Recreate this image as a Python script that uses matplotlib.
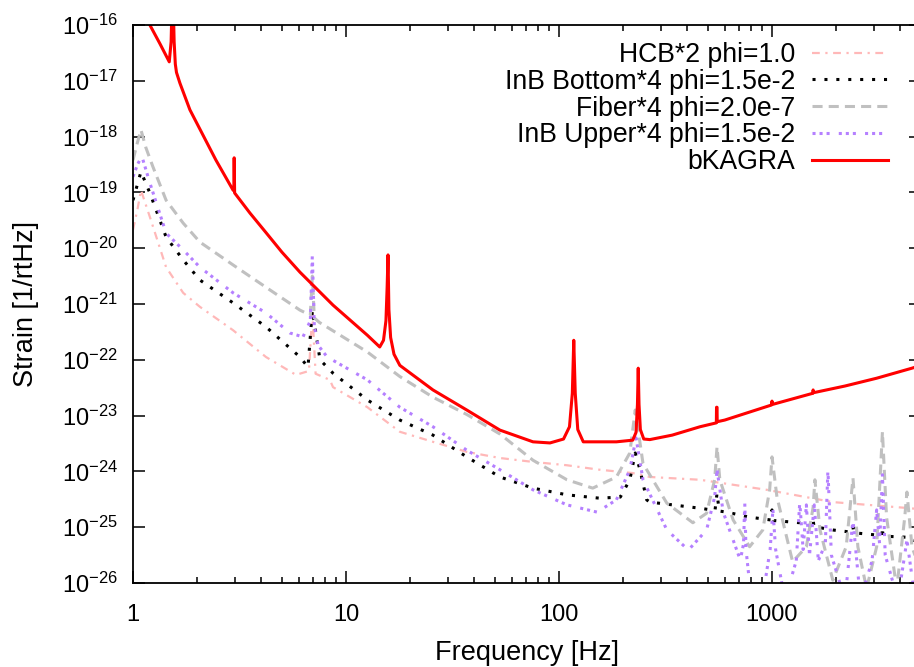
import numpy as np
import matplotlib
matplotlib.use("Agg")
import matplotlib.pyplot as plt

plt.rcParams['font.family'] = ['Liberation Sans', 'DejaVu Sans']
plt.rcParams['mathtext.fontset'] = 'custom'
plt.rcParams['mathtext.rm'] = 'Liberation Sans'
plt.rcParams['mathtext.it'] = 'Liberation Sans'
plt.rcParams['mathtext.bf'] = 'Liberation Sans'

# ---- data (frequency in Hz, log10 of strain in 1/rtHz) ----
kagra_f = [1.15, 1.20, 1.34, 1.48, 1.51, 1.525, 1.535, 1.545, 1.56, 1.58, 1.60, 1.66, 1.85, 2.45, 2.95,
           2.975, 2.985, 3.00, 3.54, 4.21, 5.0, 6.08, 8.69, 12.6, 14.4, 15.0, 15.4, 15.6, 15.75, 15.9, 16.2,
           16.8, 17.9, 25.6, 36.9, 52.8, 75.5, 90.7, 105, 112, 115.5, 117.3, 119.2, 122.5, 130, 186,
           222, 230, 233.5, 235.5, 237.5, 241, 250, 267, 340, 459, 548, 549, 552, 553, 600, 995, 1000,
           1005, 1555, 1560, 1565, 2200, 3100, 4540, 5000]
kagra_log = [-15.85, -16.0, -16.34, -16.66, -16.3, -15.6, -15.3, -15.6, -16.3, -16.7, -16.85, -17.04, -17.52, -18.42, -18.96,
             -18.97, -18.38, -19.01, -19.37, -19.72, -20.07, -20.43, -21.02, -21.56, -21.77, -21.65, -21.3, -20.7, -20.12, -21.1, -21.6,
             -21.9, -22.1, -22.54, -22.90, -23.26, -23.47, -23.49, -23.42, -23.2, -22.6, -21.65, -22.6, -23.25, -23.47, -23.47,
             -23.44, -23.3, -22.8, -22.15, -22.8, -23.25, -23.42, -23.43, -23.35, -23.20, -23.13, -22.85, -22.85, -23.11, -23.08, -22.81, -22.74,
             -22.80, -22.60, -22.54, -22.59, -22.47, -22.33, -22.15, -22.10]

fiber_f = [1.0, 1.05, 1.09, 1.15, 1.24, 1.43, 1.72, 2.06, 2.95, 4.21, 6.08, 6.8, 6.95, 7.1, 7.5, 8.69, 12.6,
           17.9, 25.6, 36.9, 52.8, 75.5, 109, 144, 186, 215, 228, 248, 321, 425, 493, 538, 552, 569,
           657, 785, 905, 975, 1000, 1055, 1250, 1450, 1560, 1590, 1680, 1930, 2230, 2400, 2530, 2780,
           3100, 3300, 3450, 3850, 4200, 4300, 4540, 5000]
fiber_log = [-18.42, -18.1, -17.88, -18.2, -18.54, -19.14, -19.55, -19.89, -20.30, -20.70, -21.11, -21.2, -20.5, -21.25, -21.33, -21.48, -21.86,
             -22.30, -22.67, -22.98, -23.33, -23.80, -24.15, -24.30, -24.10, -23.67, -22.90, -23.86, -24.57, -24.92, -24.75, -24.15, -23.56, -24.15,
             -24.87, -25.35, -25.05, -24.33, -23.74, -24.46, -25.62, -25.35, -24.64, -24.15, -25.05, -25.95, -25.35, -24.12, -25.35, -26.1,
             -25.35, -23.29, -24.82, -26.1, -24.82, -24.37, -25.35, -25.8]

upper_f = [1.0, 1.05, 1.1, 1.2, 1.43, 1.72, 2.06, 2.95, 4.21, 5.46, 6.28, 6.8, 6.95, 7.1, 7.4, 8.16, 12.6,
           17.9, 25.6, 36.9, 52.8, 75.5, 109, 151, 186, 215, 230, 248, 321, 405, 493, 538, 552, 590,
           710, 735, 745, 755, 800, 900, 980, 1010, 1040, 1150, 1300, 1350, 1400, 1450, 1500, 1580,
           1650, 1780, 1830, 1900, 2200, 2400, 2600, 2950, 3100, 3200, 3300, 3400, 3900, 4300, 4700, 5000]
upper_log = [-18.72, -18.5, -18.35, -18.83, -19.73, -20.03, -20.34, -20.80, -21.16, -21.52, -21.59, -21.3, -20.12, -21.4, -21.74, -21.95, -22.36,
             -22.85, -23.20, -23.62, -23.97, -24.33, -24.60, -24.73, -24.51, -23.97, -23.40, -24.15, -25.05, -25.41, -25.05, -24.46, -23.97, -24.73,
             -25.59, -25.3, -24.57, -25.4, -26.3, -26.3, -25.4, -24.69, -25.4, -26.3, -25.6, -24.55, -25.4, -24.6, -25.5, -24.6,
             -25.6, -25.3, -23.97, -25.5, -26.3, -24.87, -26.3, -25.6, -24.69, -25.3, -24.06, -25.5, -26.3, -25.23, -26.3, -26.3]

bottom_f = [1.0, 1.05, 1.09, 1.2, 1.43, 1.72, 2.06, 2.95, 4.21, 6.08, 6.63, 6.95, 7.55, 8.69, 12.6, 17.9, 25.6,
            36.9, 52.8, 75.5, 109, 155, 194, 215, 228, 240, 258, 267, 459, 540, 552, 565, 613, 785, 985,
            1000, 1015, 1350, 1545, 1560, 1575, 1930, 2380, 2400, 2420, 3100, 3280, 3300, 3320, 4300, 4540, 5000]
bottom_log = [-19.14, -18.85, -18.63, -19.01, -19.80, -20.21, -20.57, -20.98, -21.41, -21.95, -22.13, -21.11, -22.0, -22.24, -22.72, -23.08, -23.35,
              -23.74, -24.10, -24.30, -24.42, -24.48, -24.46, -24.15, -23.67, -23.97, -24.51, -24.55, -24.66, -24.70, -24.39, -24.71, -24.73, -24.82, -24.87,
              -24.69, -24.88, -24.92, -24.98, -24.87, -24.99, -25.05, -25.09, -25.00, -25.10, -25.14, -25.15, -25.00, -25.16, -25.18, -25.23, -25.26]

hcb_f = [1.0, 1.05, 1.09, 1.2, 1.43, 1.72, 2.06, 2.95, 4.21, 5.82, 6.7, 6.95, 7.2, 8.4, 8.69, 12.6, 17.9, 25.6,
         36.9, 52.8, 75.5, 109, 155, 222, 267, 459, 945, 1930, 4460, 5000]
hcb_log = [-19.67, -19.3, -18.96, -19.44, -20.34, -20.80, -21.05, -21.47, -21.95, -22.27, -22.2, -21.16, -22.25, -22.36, -22.49, -22.85, -23.29, -23.47,
           -23.65, -23.76, -23.83, -23.89, -23.97, -24.03, -24.10, -24.15, -24.33, -24.55, -24.66, -24.68]

labels = ["HCB*2 phi=1.0", "InB Bottom*4 phi=1.5e-2", "Fiber*4 phi=2.0e-7",
          "InB Upper*4 phi=1.5e-2", "bKAGRA"]

W, H = 914, 667
fig = plt.figure(figsize=(W / 100, H / 100), dpi=100)
left, top, bottom = 133, 25, 583
width_px = 213 * np.log10(5000)
ax = fig.add_axes([left / W, (H - bottom) / H, width_px / W, (bottom - top) / H])

ax.plot(hcb_f, 10.0 ** np.array(hcb_log), color='#ffb8b8', lw=1.6, dashes=(3.5, 2.5, 1, 2.5), label=labels[0])
ax.plot(bottom_f, 10.0 ** np.array(bottom_log), color='black', lw=2.2, dashes=(1, 2.9), label=labels[1])
ax.plot(fiber_f, 10.0 ** np.array(fiber_log), color='#c0c0c0', lw=2.2, dashes=(3.3, 2), label=labels[2])
ax.plot(upper_f, 10.0 ** np.array(upper_log), color='#b580ff', lw=2.2, dashes=(1, 1.3, 1, 1.3, 1, 3), label=labels[3])
ax.plot(kagra_f, 10.0 ** np.array(kagra_log), color='#ff0000', lw=2.2, label=labels[4])

ax.set_xscale('log')
ax.set_yscale('log')
ax.set_xlim(1, 5000)
ax.set_ylim(1e-26, 1e-16)
ax.set_yticks([10.0 ** e for e in range(-26, -15)])
ax.yaxis.set_minor_locator(matplotlib.ticker.NullLocator())
ax.set_xticks([1, 10, 100, 1000])
ax.set_xticklabels(['1', '10', '100', '1000'])

ax.tick_params(which='both', direction='in', top=True, right=True, labelsize=17, width=1.1)
ax.tick_params(which='major', length=8.6)
ax.tick_params(which='minor', length=4.3)
ax.tick_params(axis='y', pad=11)
ax.tick_params(axis='x', pad=15)
for s in ax.spines.values():
    s.set_linewidth(1.3)

ax.set_xlabel('Frequency [Hz]', fontsize=19.5, labelpad=10)
ax.set_ylabel('Strain [1/rtHz]', fontsize=19.5, labelpad=16)

leg = ax.legend(loc='upper right', bbox_to_anchor=(888 / W, 1 - 42 / H), bbox_transform=fig.transFigure,
                frameon=False, markerfirst=False, fontsize=19.2, handlelength=2.85, handletextpad=0.64,
                labelspacing=0.03, borderpad=0, borderaxespad=0)

fig.savefig('out.png', dpi=100)
